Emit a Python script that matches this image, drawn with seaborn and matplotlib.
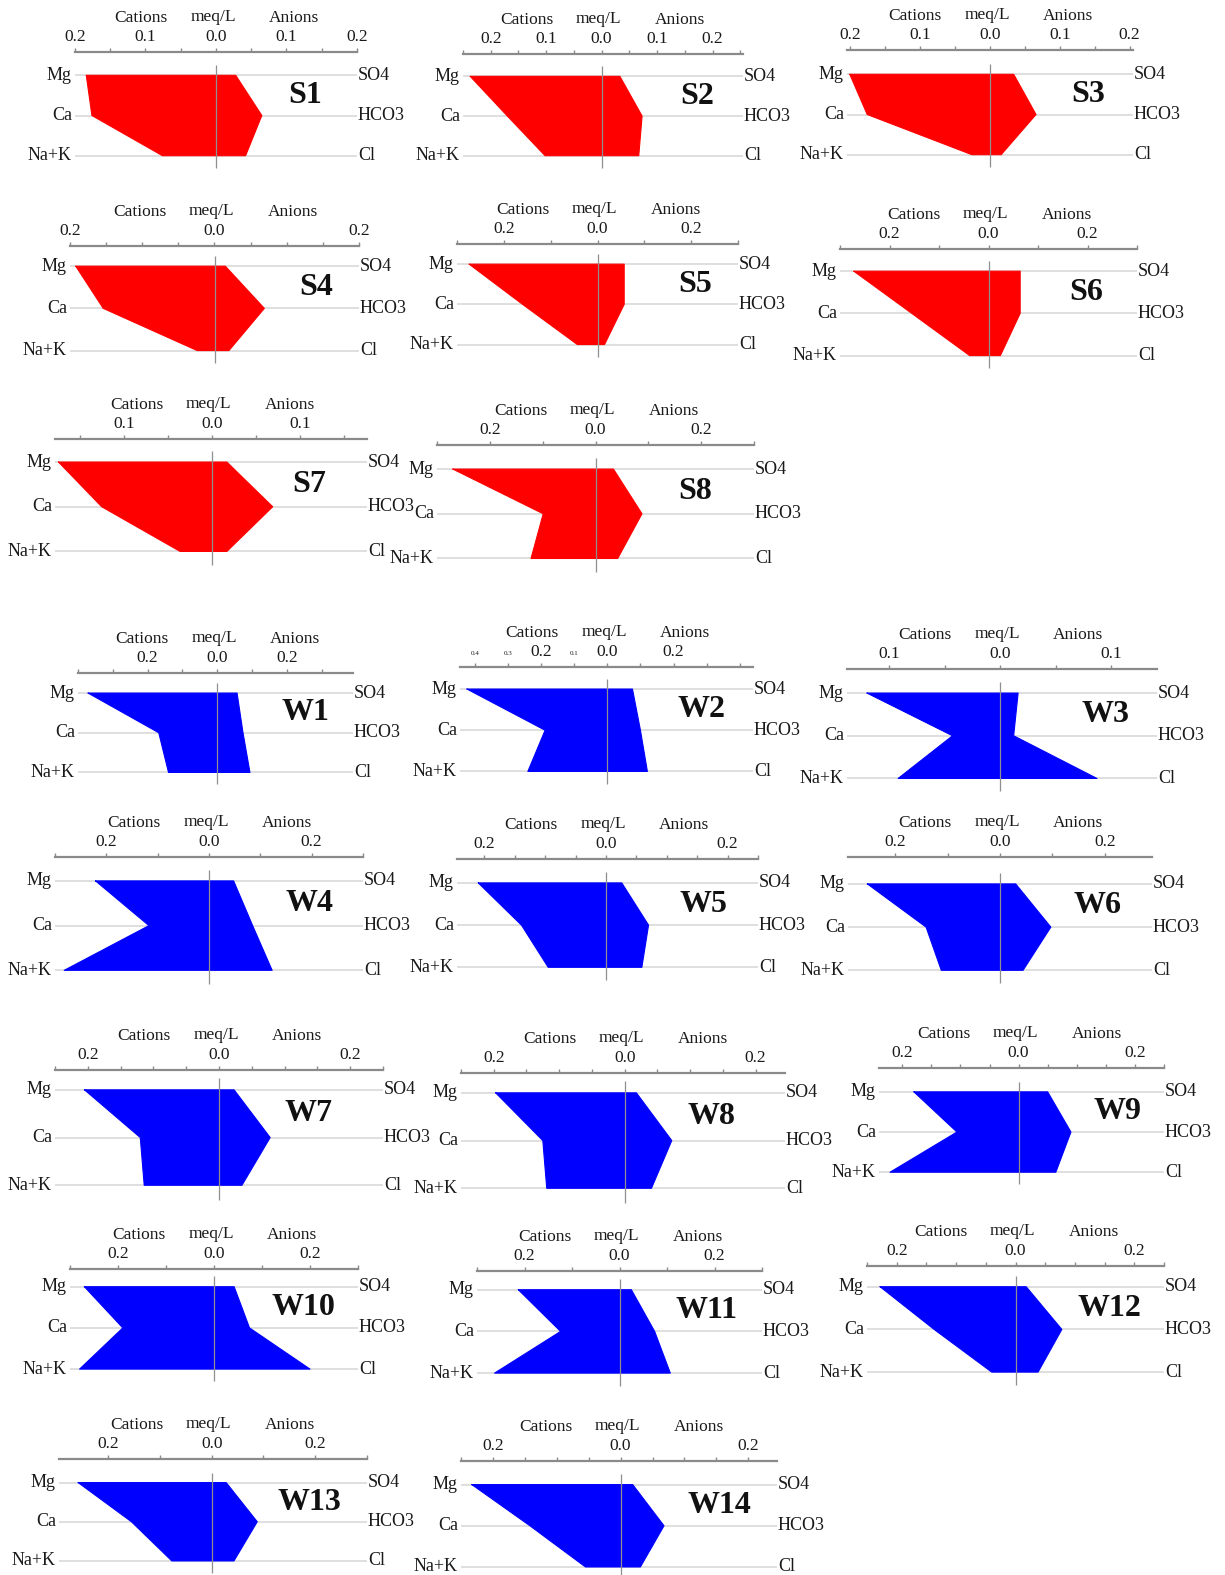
import numpy as np
import pandas as pd
import matplotlib
matplotlib.use("Agg")
import matplotlib.pyplot as plt
import seaborn as sns

sns.set_theme(style="white")
plt.rcParams["font.family"] = ["Liberation Serif", "DejaVu Serif"]

# ---- Stiff diagram data (meq/L) -------------------------------------------
samples = ["S1", "S2", "S3", "S4", "S5", "S6", "S7", "S8",
           "W1", "W2", "W3", "W4", "W5", "W6", "W7", "W8", "W9",
           "W10", "W11", "W12", "W13", "W14"]

# cations
mg = [0.184, 0.237, 0.201, 0.192, 0.274, 0.272, 0.174, 0.270,
      0.371, 0.424, 0.120, 0.221, 0.210, 0.253, 0.205, 0.197, 0.180,
      0.270, 0.213, 0.228, 0.258, 0.233]
ca = [0.176, 0.170, 0.176, 0.154, 0.160, 0.155, 0.125, 0.099,
      0.168, 0.188, 0.043, 0.117, 0.139, 0.141, 0.120, 0.125, 0.106,
      0.190, 0.124, 0.137, 0.155, 0.142]
nak = [0.076, 0.102, 0.026, 0.024, 0.043, 0.038, 0.036, 0.122,
       0.140, 0.240, 0.092, 0.282, 0.095, 0.112, 0.114, 0.119, 0.221,
       0.280, 0.263, 0.040, 0.077, 0.055]

# anions
so4 = [0.028, 0.033, 0.034, 0.015, 0.057, 0.064, 0.017, 0.034,
       0.057, 0.076, 0.016, 0.048, 0.026, 0.030, 0.023, 0.018, 0.050,
       0.042, 0.025, 0.018, 0.028, 0.019]
hco3 = [0.065, 0.073, 0.066, 0.069, 0.057, 0.064, 0.069, 0.088,
        0.074, 0.100, 0.012, 0.085, 0.070, 0.097, 0.078, 0.072, 0.090,
        0.074, 0.074, 0.078, 0.088, 0.068]
cl = [0.042, 0.067, 0.016, 0.020, 0.015, 0.024, 0.017, 0.042,
      0.094, 0.121, 0.087, 0.123, 0.059, 0.044, 0.035, 0.041, 0.064,
      0.200, 0.107, 0.038, 0.043, 0.031]

cation_labels = ["Mg", "Ca", "Na+K"]
anion_labels = ["SO4", "HCO3", "Cl"]

# x-axis range, tick spacing and labelled ticks of each diagram
x_lo = [-0.2, -0.25, -0.205, -0.2, -0.3, -0.3, -0.178, -0.3,
        -0.4, -0.445, -0.138, -0.3, -0.245, -0.29, -0.25, -0.25, -0.24,
        -0.3, -0.3, -0.25, -0.295, -0.25]
x_hi = [0.2, 0.255, 0.205, 0.2, 0.3, 0.3, 0.176, 0.3,
        0.39, 0.44, 0.141, 0.3, 0.25, 0.29, 0.25, 0.245, 0.25,
        0.3, 0.3, 0.25, 0.3, 0.245]
tick_step = [0.05, 0.05, 0.05, 0.05, 0.1, 0.1, 0.05, 0.1,
             0.1, 0.1, 0.05, 0.1, 0.05, 0.1, 0.05, 0.05, 0.05,
             0.1, 0.1, 0.05, 0.1, 0.05]
ticks_fine = [-0.2, -0.1, 0.0, 0.1, 0.2]
ticks_wide = [-0.2, 0.0, 0.2]
ticks_narrow = [-0.1, 0.0, 0.1]
tick_labels = [ticks_fine, ticks_fine, ticks_fine, ticks_wide, ticks_wide,
               ticks_wide, ticks_narrow, ticks_wide,
               ticks_wide, ticks_wide, ticks_narrow, ticks_wide, ticks_wide,
               ticks_wide, ticks_wide, ticks_wide, ticks_wide,
               ticks_wide, ticks_wide, ticks_wide, ticks_wide, ticks_wide]
small_tick_labels = {"W2": [-0.4, -0.3, -0.1]}

# ---- layout (pixels): axis left, axis right, axis line y, Mg row y,
#      Na+K row y, title offset from axis right end --------------------------
layout = [
    (75, 357, 52, 75, 155, 52),
    (463, 743, 54, 76, 155, 46),
    (847, 1133, 50, 74, 154, 45),
    (70, 359, 245, 265, 349, 43),
    (457, 738, 243, 263, 343, 43),
    (840, 1137, 248, 270, 354, 51),
    (55, 367, 437, 460, 549, 58),
    (437, 754, 443, 467, 556, 59),
    (78, 353, 670, 690, 769, 48),
    (460, 753, 664, 686, 768, 51),
    (847, 1157, 666, 690, 775, 52),
    (55, 363, 853, 877, 966, 54),
    (457, 758, 855, 879, 963, 55),
    (848, 1152, 853, 880, 966, 54),
    (55, 383, 1065, 1085, 1180, 74),
    (461, 785, 1068, 1088, 1183, 74),
    (879, 1164, 1063, 1087, 1167, 47),
    (70, 358, 1263, 1281, 1363, 55),
    (477, 762, 1265, 1284, 1367, 55),
    (867, 1164, 1260, 1281, 1366, 55),
    (59, 367, 1453, 1476, 1554, 58),
    (461, 777, 1455, 1478, 1560, 58),
]

W, H = 1225, 1575
V = H / 1568.0

fig = plt.figure(figsize=(W / 100, H / 100), dpi=100)
fig.patch.set_facecolor("white")

TXT = "#1a1a1a"
AXC = "#8a8a8a"
ROWC = "#dcdcdc"

for i, name in enumerate(samples):
    axl, axr, line_y, mg_y, nak_y, title_dx = layout[i]
    line_y, mg_y, nak_y = line_y * V, mg_y * V, nak_y * V
    bottom_y = nak_y + 16
    step = (nak_y - mg_y) / 2.0

    ax = fig.add_axes([axl / W, 1 - bottom_y / H,
                       (axr - axl) / W, (bottom_y - line_y) / H])
    ax.set_facecolor("none")
    lo, hi = x_lo[i], x_hi[i]
    ax.set_xlim(lo, hi)
    ax.set_ylim((bottom_y - mg_y) / step, (line_y - mg_y) / step)

    color = "#ff0000" if name.startswith("S") else "#0000ff"

    # row guide lines and zero line
    rows = [0, 1, 2]
    ax.hlines(rows, lo, hi, color=ROWC, lw=1.3, zorder=0, clip_on=False)
    ax.vlines(0, -0.25, 2.3, color="#8f8f8f", lw=0.9, zorder=3)

    # polygon: cations on the left (negative), anions on the right
    poly = pd.DataFrame({
        "x": [-mg[i], -ca[i], -nak[i], cl[i], hco3[i], so4[i]],
        "y": [0, 1, 2, 2, 1, 0],
    })
    ax.fill(poly["x"], poly["y"], color=color, lw=0, zorder=2)
    closed = pd.concat([poly, poly.iloc[[0]]], ignore_index=True)
    closed["order"] = np.arange(len(closed))
    sns.lineplot(data=closed, x="x", y="y", sort=False, color=color,
                 lw=0.8, ax=ax, zorder=2, estimator=None)
    ax.set_xlabel("")
    ax.set_ylabel("")

    # top axis with tick marks
    sns.despine(ax=ax, top=False, left=True, right=True, bottom=True)
    ax.spines["top"].set_color(AXC)
    ax.spines["top"].set_linewidth(1.6)
    ax.xaxis.tick_top()
    st = tick_step[i]
    tpos = np.arange(np.ceil(lo / st - 1e-6) * st, hi + 1e-6, st)
    ax.set_xticks(tpos)
    ax.set_xticklabels([])
    ax.set_yticks([])
    ax.tick_params(axis="x", direction="out", length=3, width=1,
                   color=AXC, top=True, bottom=False)

    for v in tick_labels[i]:
        ax.annotate(f"{abs(v):.1f}", xy=(v, 1), xycoords=("data", "axes fraction"),
                    xytext=(0, 15), textcoords="offset pixels", ha="center",
                    va="center", fontsize=12.5, color=TXT, annotation_clip=False)
    for v in small_tick_labels.get(name, []):
        ax.annotate(f"{abs(v):.1f}", xy=(v, 1), xycoords=("data", "axes fraction"),
                    xytext=(0, 13), textcoords="offset pixels", ha="center",
                    va="center", fontsize=5, color=TXT, annotation_clip=False)

    for txt, dx, dy in [("Cations", -75, 34), ("meq/L", -3, 35), ("Anions", 78, 34)]:
        ax.annotate(txt, xy=(0, 1), xycoords=("data", "axes fraction"),
                    xytext=(dx, dy), textcoords="offset pixels", ha="center",
                    va="center", fontsize=12.5, color=TXT, annotation_clip=False)

    for r, (cl_lab, an_lab) in enumerate(zip(cation_labels, anion_labels)):
        ax.annotate(cl_lab, xy=(0, r), xycoords=("axes fraction", "data"),
                    xytext=(-3, 0), textcoords="offset pixels", ha="right",
                    va="center", fontsize=13, color=TXT, annotation_clip=False)
        ax.annotate(an_lab, xy=(1, r), xycoords=("axes fraction", "data"),
                    xytext=(1, 0), textcoords="offset pixels", ha="left",
                    va="center", fontsize=13, color=TXT, annotation_clip=False)

    ax.annotate(name, xy=(1, 0.5), xycoords=("axes fraction", "data"),
                xytext=(-title_dx, 0), textcoords="offset pixels", ha="center",
                va="center", fontsize=23, fontweight="bold", color="#111111",
                annotation_clip=False)

fig.savefig("out.png", dpi=100, facecolor="white")
